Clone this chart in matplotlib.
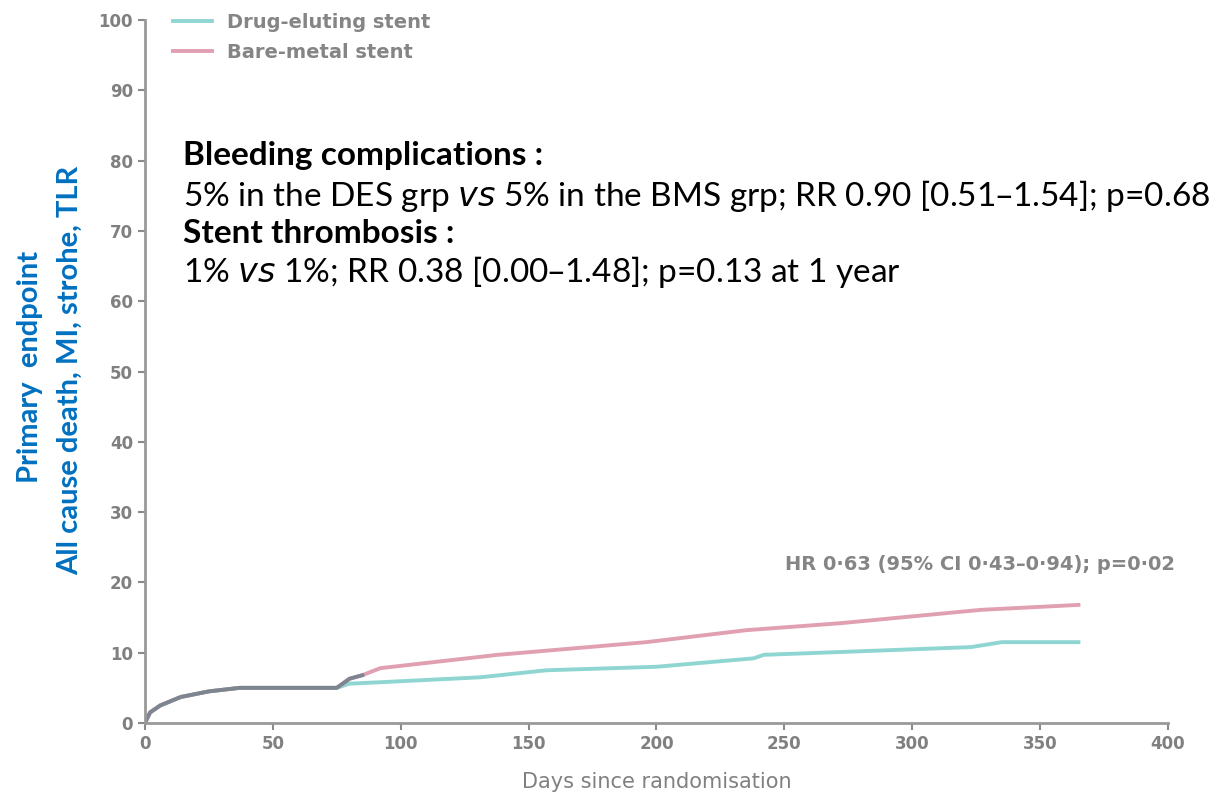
import matplotlib.pyplot as plt

# Kaplan-Meier style curves (days, cumulative %)
des_days = [0, 2, 6, 14, 25, 37, 75, 80, 92, 131, 157, 200, 238, 242, 272, 323, 335, 365]
des_pct = [0, 1.5, 2.5, 3.7, 4.5, 5.0, 5.0, 5.6, 5.8, 6.5, 7.5, 8.0, 9.2, 9.7, 10.1, 10.8, 11.5, 11.5]
bms_days = [0, 2, 6, 14, 25, 37, 75, 80, 85, 92, 138, 196, 235, 272, 327, 365]
bms_pct = [0, 1.5, 2.5, 3.7, 4.5, 5.0, 5.0, 6.3, 6.8, 7.8, 9.7, 11.5, 13.2, 14.2, 16.1, 16.8]
shared_n = 7  # both curves overlap for the first points

x_ticks = [0, 50, 100, 150, 200, 250, 300, 350, 400]
y_ticks = [0, 10, 20, 30, 40, 50, 60, 70, 80, 90, 100]

fig = plt.figure(figsize=(12.16, 8.02), dpi=100)
ax = fig.add_axes([0.1192, 0.0985, 0.8413, 0.8765])

ax.plot(des_days, des_pct, color='#8fd6d2', lw=2.8, label='Drug-eluting stent')
ax.plot(bms_days, bms_pct, color='#e0a0b2', lw=2.8, label='Bare-metal stent')
ax.plot(bms_days[:shared_n + 2], bms_pct[:shared_n + 2], color='#7d8590', lw=2.8)

ax.set_xlim(0, 400)
ax.set_ylim(0, 100)
ax.set_xticks(x_ticks)
ax.set_yticks(y_ticks)
ax.tick_params(colors='#8a8a8a', labelcolor='#808080', labelsize=12, width=1.5, length=5)
for lab in ax.get_xticklabels() + ax.get_yticklabels():
    lab.set_fontweight('bold')
for s in ['top', 'right']:
    ax.spines[s].set_visible(False)
for s in ['left', 'bottom']:
    ax.spines[s].set_color('#999999')
    ax.spines[s].set_linewidth(2)

ax.set_xlabel('Days since randomisation', color='#808080', fontsize=15, labelpad=14)

leg = ax.legend(loc='upper left', bbox_to_anchor=(0.01, 1.035), frameon=False,
                fontsize=14, handlelength=2.0, labelspacing=0.55)
for t in leg.get_texts():
    t.set_color('#858585')
    t.set_fontweight('bold')

ax.text(1.007, 0.225, 'HR 0·63 (95% CI 0·43–0·94); p=0·02', transform=ax.transAxes,
        ha='right', va='center', color='#858585', fontsize=14, fontweight='bold')

# overlaid slide text
fam = ['Lato', 'DejaVu Sans']
fig.text(183 / 1216, 1 - 155 / 802, 'Bleeding complications :', fontsize=24,
         fontweight='bold', family=fam, va='center', color='black')
fig.text(183 / 1216, 1 - 196 / 802,
         '5% in the DES grp $\\it{vs}$ 5% in the BMS grp; RR 0.90 [0.51–1.54]; p=0.68',
         fontsize=24, family=fam, va='center', color='black')
fig.text(183 / 1216, 1 - 234 / 802, 'Stent thrombosis :', fontsize=24,
         fontweight='bold', family=fam, va='center', color='black')
fig.text(183 / 1216, 1 - 272 / 802, '1% $\\it{vs}$ 1%; RR 0.38 [0.00–1.48]; p=0.13 at 1 year',
         fontsize=24, family=fam, va='center', color='black')

fig.text(30 / 1216, 1 - 367 / 802, 'Primary  endpoint', rotation=90, fontsize=21,
         fontweight='bold', family=fam, color='#0070C0', ha='center', va='center')
fig.text(70 / 1216, 1 - 370 / 802, 'All cause death, MI, strohe, TLR', rotation=90,
         fontsize=21, fontweight='bold', family=fam, color='#0070C0', ha='center', va='center')

fig.savefig('out.png', dpi=100)
